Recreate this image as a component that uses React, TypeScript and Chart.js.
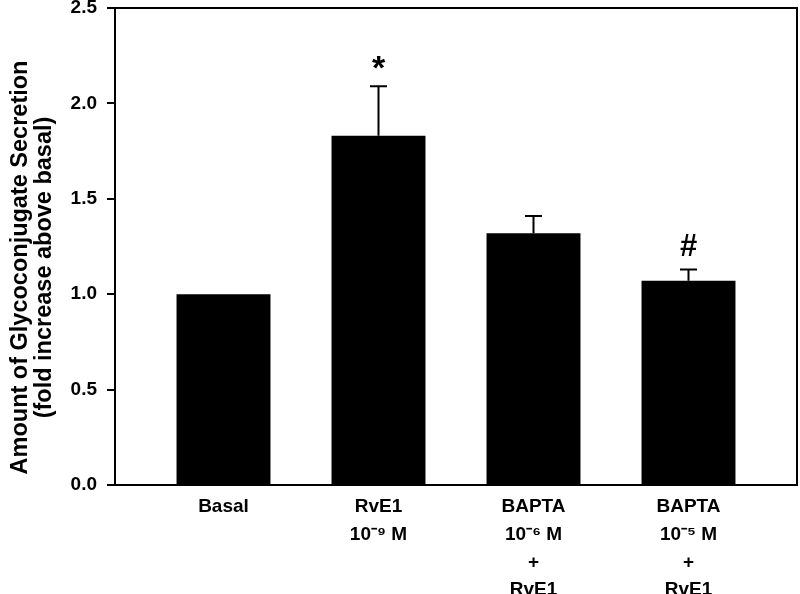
import React, { useEffect, useRef } from "react";
import { Chart, registerables } from "chart.js";

Chart.register(...registerables);

// ---- data ----
const categoryLabels: string[][] = [
  ["Basal"],
  ["RvE1", "10⁻⁹ M"],
  ["BAPTA", "10⁻⁶ M", "+", "RvE1"],
  ["BAPTA", "10⁻⁵ M", "+", "RvE1"],
];
const meanValues: number[] = [1.0, 1.83, 1.32, 1.07];
const errorValues: number[] = [0, 0.26, 0.09, 0.06];
const significanceMarks: string[] = ["", "*", "", "#"];
const yTickValues: number[] = [0, 0.5, 1.0, 1.5, 2.0, 2.5];
const yTitleLines: string[] = ["Amount of Glycoconjugate Secretion", "(fold increase above basal)"];

const FONT = "'Liberation Sans', Arial, Helvetica, sans-serif";

const errorBarPlugin = {
  id: "errorBarsAndBox",
  afterDatasetsDraw(chart: any) {
    const ctx: CanvasRenderingContext2D = chart.ctx;
    const meta = chart.getDatasetMeta(0);
    const yScale = chart.scales.y;
    ctx.save();
    ctx.strokeStyle = "#000";
    ctx.fillStyle = "#000";
    ctx.lineWidth = 2;
    meta.data.forEach((bar: any, i: number) => {
      const err = errorValues[i];
      const top = yScale.getPixelForValue(meanValues[i] + err);
      if (err > 0) {
        ctx.beginPath();
        ctx.moveTo(bar.x, bar.y);
        ctx.lineTo(bar.x, top);
        ctx.moveTo(bar.x - 8.5, top);
        ctx.lineTo(bar.x + 8.5, top);
        ctx.stroke();
      }
      const mark = significanceMarks[i];
      if (mark) {
        ctx.font = `bold ${mark === "*" ? 34 : 31}px ${FONT}`;
        ctx.textAlign = "center";
        ctx.textBaseline = "alphabetic";
        const m = ctx.measureText(mark);
        const center = top - 24;
        const base = center + (m.actualBoundingBoxAscent - m.actualBoundingBoxDescent) / 2;
        ctx.fillText(mark, bar.x, base);
      }
    });
    const a = chart.chartArea;
    ctx.strokeRect(a.left, a.top, a.right - a.left, a.bottom - a.top);

    // y-axis title (two lines, rotated)
    ctx.font = `bold 23.5px ${FONT}`;
    ctx.textAlign = "center";
    ctx.textBaseline = "middle";
    const cy = (a.top + a.bottom) / 2 + 21;
    const xs = [21, 45];
    yTitleLines.forEach((line, i) => {
      ctx.save();
      ctx.translate(xs[i], cy);
      ctx.rotate(-Math.PI / 2);
      ctx.fillText(line, 0, 0);
      ctx.restore();
    });
    ctx.restore();
  },
};

export default function App() {
  const canvasRef = useRef<HTMLCanvasElement | null>(null);

  useEffect(() => {
    document.body.style.margin = "0";
    const canvas = canvasRef.current;
    if (!canvas) return;
    const chart = new Chart(canvas, {
      type: "bar",
      data: {
        datasets: [
          {
            data: meanValues.map((v, i) => ({ x: i, y: v })),
            backgroundColor: "#000",
            borderColor: "#000",
            borderWidth: 0,
            categoryPercentage: 1,
            barPercentage: 0.606,
          },
        ],
      },
      options: {
        responsive: false,
        animation: false,
        events: [],
        layout: { padding: { top: 8, right: 3, left: 0, bottom: 0 } },
        plugins: {
          legend: { display: false },
          tooltip: { enabled: false },
          title: { display: false },
        },
        scales: {
          x: {
            type: "linear",
            offset: false,
            min: -0.7,
            max: 3.7,
            afterBuildTicks: (scale: any) => {
              scale.ticks = categoryLabels.map((_, i) => ({ value: i }));
            },
            afterFit: (scale: any) => {
              scale.height = 109;
              scale.paddingLeft = 0;
              scale.paddingRight = 0;
            },
            grid: { display: false, drawTicks: false, offset: false },
            border: { display: false },
            ticks: {
              autoSkip: false,
              maxRotation: 0,
              minRotation: 0,
              padding: 8,
              color: "#000",
              font: { family: FONT, size: 19, weight: "bold", lineHeight: 1.46 },
              callback: (value: any) => categoryLabels[Number(value)] ?? "",
            },
          },
          y: {
            min: 0,
            max: 2.5,
            afterBuildTicks: (scale: any) => {
              scale.ticks = yTickValues.map((v) => ({ value: v }));
            },
            afterFit: (scale: any) => {
              scale.width = 115;
              scale.paddingTop = 0;
              scale.paddingBottom = 0;
            },
            grid: {
              drawOnChartArea: false,
              drawTicks: true,
              tickLength: 8,
              color: "#000",
              lineWidth: 2,
            },
            border: { display: true, color: "#000", width: 2 },
            ticks: {
              padding: 10,
              color: "#000",
              font: { family: FONT, size: 19, weight: "bold" },
              callback: (value: any) => Number(value).toFixed(1),
            },
            title: { display: false },
          },
        },
      },
      plugins: [errorBarPlugin],
    } as any);
    return () => chart.destroy();
  }, []);

  return (
    <div style={{ width: 800, height: 594 }}>
      <canvas ref={canvasRef} width={800} height={594} style={{ display: "block" }} />
    </div>
  );
}
